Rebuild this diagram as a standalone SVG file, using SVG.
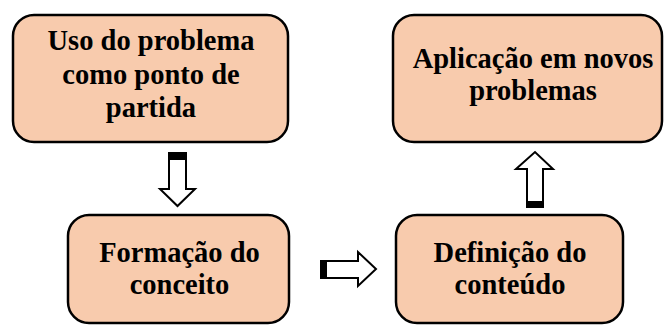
<svg xmlns="http://www.w3.org/2000/svg" width="664" height="325" viewBox="0 0 664 325">
<style>
.box{fill:#F8CBAD;stroke:#000;stroke-width:2.5}
.t{font-family:Tinos,"Times New Roman",Times,"Nimbus Roman","Nimbus Roman No9 L","Noto Serif","Liberation Serif","DejaVu Serif",FreeSerif,serif;font-weight:bold;font-size:28.5px;fill:#000;text-anchor:middle}
.arr{fill:#fff;stroke:#000;stroke-width:2;stroke-linejoin:miter}
.cap{fill:#000}
</style>
<rect width="664" height="325" fill="#fff"/>
<g id="node-uso">
<rect class="box" x="13" y="15" width="275" height="127" rx="21"/>
<text class="t" x="151" y="50">Uso do problema</text>
<text class="t" x="151" y="84">como ponto de</text>
<text class="t" x="151" y="117">partida</text>
</g>
<g id="node-aplicacao">
<rect class="box" x="393" y="15" width="269" height="127" rx="21"/>
<text class="t" x="533" y="68">Aplicação em novos</text>
<text class="t" x="533" y="100">problemas</text>
</g>
<g id="node-formacao">
<rect class="box" x="68" y="215" width="221" height="108" rx="21"/>
<text class="t" x="179.5" y="262">Formação do</text>
<text class="t" x="179.5" y="294">conceito</text>
</g>
<g id="node-definicao">
<rect class="box" x="396" y="215" width="227" height="108" rx="21"/>
<text class="t" x="510" y="262">Definição do</text>
<text class="t" x="510" y="294">conteúdo</text>
</g>
<g id="connectors">
<polygon class="arr" points="169,153 186,153 186,189 195,189 177.5,206 160,189 169,189"/>
<rect class="cap" x="169" y="153" width="17" height="7"/>
<polygon class="arr" points="321,261 358,261 358,252 376,269 358,286 358,278 321,278"/>
<rect class="cap" x="321" y="261" width="6" height="17"/>
<polygon class="arr" points="527,207 527,169 516,169 535,152 553,169 543,169 543,207"/>
<rect class="cap" x="527" y="201" width="16" height="6"/>
</g>
</svg>
